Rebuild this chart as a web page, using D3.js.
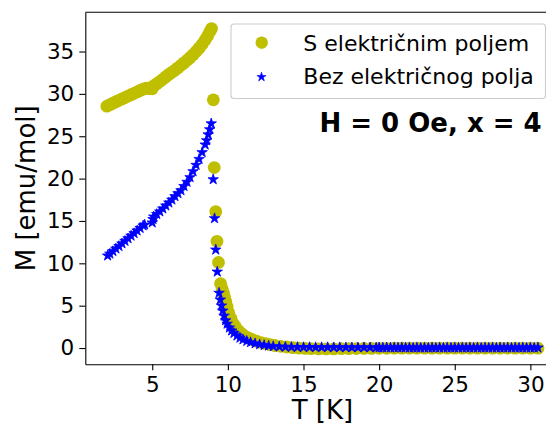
<!DOCTYPE html>
<html>
<head>
<meta charset="utf-8">
<script src="https://cdn.jsdelivr.net/npm/d3@7"></script>
<style>
  body { margin: 0; background: #fff; }
  svg { display: block; font-family: "DejaVu Sans", sans-serif; }
</style>
</head>
<body>
<div id="chart"></div>
<script>
// S elektricnim poljem (yellow circles)
var tWith = [2.0, 2.2, 2.4, 2.6, 2.8, 3.0, 3.2, 3.4, 3.6, 3.8, 4.0, 4.2, 4.4, 4.6, 4.8, 5.0,
  5.1, 5.3, 5.5, 5.7, 5.9, 6.1, 6.3, 6.5, 6.7, 6.9, 7.1, 7.3, 7.5, 7.7, 7.9, 8.1, 8.3, 8.5, 8.65, 8.8, 8.92,
  9.04, 9.1, 9.2, 9.28, 9.38, 9.52, 9.62, 9.7, 9.78, 9.86, 9.95, 10.05, 10.2, 10.35, 10.5, 10.7, 10.9,
  11.1, 11.35, 11.6, 11.9, 12.2, 12.5, 12.8, 13.1, 13.5, 13.9, 14.3, 14.7, 15.1, 15.5, 16.0,
  16.5, 17.0, 17.5, 18.0, 18.5, 19.0, 19.5, 20.0, 20.5, 21.0, 21.5, 22.0, 22.5, 23.0, 23.5, 24.0,
  24.5, 25.0, 25.5, 26.0, 26.5, 27.0, 27.5, 28.0, 28.5, 29.0, 29.5, 30.0, 30.5];
var mWith = [28.55, 28.72, 28.9, 29.07, 29.24, 29.4, 29.57, 29.74, 29.9, 30.07, 30.23, 30.4, 30.56, 30.68, 30.62, 30.6,
  30.95, 31.2, 31.45, 31.72, 32.02, 32.3, 32.55, 32.8, 33.08, 33.37, 33.66, 33.96, 34.28, 34.62, 35.0, 35.4, 35.85, 36.35, 36.8, 37.3, 37.7,
  29.3, 21.3, 16.1, 12.6, 10.1, 7.6, 7.0, 6.5, 6.0, 5.5, 4.9, 4.2, 3.5, 2.9, 2.5, 2.05, 1.7,
  1.42, 1.2, 1.0, 0.8, 0.65, 0.52, 0.4, 0.3, 0.2, 0.12, 0.05, 0.0, -0.05, -0.08, -0.1,
  -0.1, -0.1, -0.08, -0.07, -0.06, -0.05, -0.04, -0.03, -0.03, -0.02, -0.02, -0.02, -0.02, -0.02, -0.02, -0.02,
  -0.02, -0.02, -0.02, -0.02, -0.02, -0.02, -0.02, -0.02, -0.02, -0.02, -0.02, -0.02, -0.02];

// Bez elektricnog polja (blue stars)
var tWithout = [2.05, 2.2, 2.4, 2.6, 2.8, 3.0, 3.2, 3.4, 3.6, 3.8, 4.0, 4.2, 4.4, 4.5,
  5.0, 5.05, 5.1, 5.3, 5.5, 5.7, 5.9, 6.1, 6.3, 6.5, 6.7, 6.9, 7.1, 7.3, 7.5, 7.7, 7.9, 8.1, 8.3, 8.5, 8.6, 8.7, 8.8, 8.9,
  9.03, 9.12, 9.2, 9.3, 9.42, 9.5, 9.58, 9.66, 9.75, 9.85, 9.95, 10.1, 10.25, 10.4, 10.6, 10.8, 11.0,
  11.25, 11.5, 11.8, 12.1, 12.4, 12.7, 13.0, 13.4, 13.8, 14.2, 14.6, 15.0, 15.4, 15.8, 16.2, 16.6,
  17.0, 17.4, 17.8, 18.2, 18.6, 19.0, 19.4, 19.8, 20.0, 20.25, 20.5, 20.75, 21.0, 21.25, 21.5, 21.75,
  22.0, 22.25, 22.5, 22.75, 23.0, 23.25, 23.5, 23.75, 24.0, 24.25, 24.5, 24.75, 25.0, 25.25, 25.5, 25.75,
  26.0, 26.25, 26.5, 26.75, 27.0, 27.25, 27.5, 27.75, 28.0, 28.25, 28.5, 28.75, 29.0, 29.25, 29.5, 29.75,
  30.0, 30.25, 30.5];
var mWithout = [10.9, 11.12, 11.42, 11.72, 12.02, 12.33, 12.63, 12.93, 13.24, 13.54, 13.85, 14.15, 14.45, 14.55,
  14.8, 15.2, 15.5, 15.8, 16.1, 16.45, 16.8, 17.15, 17.5, 17.9, 18.25, 18.6, 19.1, 19.6, 20.15, 20.85, 21.6, 22.3, 23.1, 24.0, 24.5, 25.2, 25.8, 26.5,
  19.9, 15.3, 11.6, 9.0, 6.5, 5.7, 5.0, 4.4, 3.8, 3.25, 2.85, 2.4, 2.05, 1.75, 1.45, 1.2, 1.0,
  0.82, 0.67, 0.53, 0.42, 0.33, 0.26, 0.2, 0.16, 0.13, 0.11, 0.1, 0.09, 0.09, 0.08, 0.08, 0.08,
  0.07, 0.07, 0.07, 0.06, 0.06, 0.06, 0.06, 0.05, 0.05, 0.05, 0.05, 0.05, 0.05, 0.05, 0.05, 0.05,
  0.04, 0.04, 0.04, 0.04, 0.04, 0.04, 0.04, 0.04, 0.04, 0.04, 0.04, 0.04, 0.04, 0.04, 0.04, 0.04,
  0.04, 0.04, 0.04, 0.04, 0.04, 0.04, 0.04, 0.04, 0.04, 0.04, 0.04, 0.04, 0.04, 0.04, 0.04, 0.04,
  0.04, 0.04, 0.04];

var xTicks = [5, 10, 15, 20, 25, 30];
var yTicks = [0, 5, 10, 15, 20, 25, 30, 35];
var seriesNames = ["S električnim poljem", "Bez električnog polja"];
var seriesColors = ["#bfbf00", "#0000ff"];

var W = 546, H = 426;
var margin = {top: 12.3, left: 85.3, bottom: 61.7};
var plotRight = 559.5; // right spine falls outside the picture

var x = d3.scaleLinear().domain([0.575, 31.925]).range([margin.left, plotRight]);
var y = d3.scaleLinear().domain([-1.92, 39.63]).range([H - margin.bottom, margin.top]);

var svg = d3.select("#chart").append("svg")
  .attr("width", W)
  .attr("height", H);

var withData = tWith.map(function(t, i) { return {t: t, m: mWith[i]}; });
var withoutData = tWithout.map(function(t, i) { return {t: t, m: mWithout[i]}; });

var star = d3.symbol().type(d3.symbolStar).size(34);

// yellow circles first, blue stars on top
svg.append("g").selectAll("circle")
  .data(withData)
  .enter().append("circle")
  .attr("cx", function(d) { return x(d.t); })
  .attr("cy", function(d) { return y(d.m); })
  .attr("r", 6.4)
  .attr("fill", seriesColors[0]);

svg.append("g").selectAll("path")
  .data(withoutData)
  .enter().append("path")
  .attr("d", star)
  .attr("transform", function(d) { return "translate(" + x(d.t) + "," + y(d.m) + ")"; })
  .attr("fill", seriesColors[1])
  .attr("stroke", seriesColors[1])
  .attr("stroke-width", 0.8);

// axes
var xAxis = svg.append("g")
  .attr("transform", "translate(0," + (H - margin.bottom) + ")")
  .call(d3.axisBottom(x).tickValues(xTicks).tickSize(6).tickPadding(6).tickSizeOuter(0));
var yAxis = svg.append("g")
  .attr("transform", "translate(" + margin.left + ",0)")
  .call(d3.axisLeft(y).tickValues(yTicks).tickSize(6).tickPadding(5).tickSizeOuter(0));

[xAxis, yAxis].forEach(function(a) {
  a.select(".domain").attr("stroke", "#000").attr("stroke-width", 1.1);
  a.selectAll(".tick line").attr("stroke", "#000").attr("stroke-width", 1.1);
  a.selectAll(".tick text")
    .attr("fill", "#000")
    .style("font-family", "DejaVu Sans")
    .style("font-size", "21.5px");
});

// top spine
svg.append("line")
  .attr("x1", margin.left).attr("x2", plotRight)
  .attr("y1", margin.top).attr("y2", margin.top)
  .attr("stroke", "#000").attr("stroke-width", 1.1);

// axis labels
svg.append("text")
  .attr("x", (margin.left + plotRight) / 2)
  .attr("y", 419)
  .attr("text-anchor", "middle")
  .style("font-size", "26px")
  .text("T [K]");

svg.append("text")
  .attr("transform", "translate(35," + ((margin.top + H - margin.bottom) / 2) + ") rotate(-90)")
  .attr("text-anchor", "middle")
  .style("font-size", "26px")
  .text("M [emu/mol]");

// legend
var legend = svg.append("g");
legend.append("rect")
  .attr("x", 231).attr("y", 24)
  .attr("width", 314.5).attr("height", 74.5)
  .attr("rx", 3)
  .attr("fill", "#fff").attr("fill-opacity", 0.8)
  .attr("stroke", "#cccccc").attr("stroke-width", 1.1);

legend.append("circle")
  .attr("cx", 261.7).attr("cy", 42.7)
  .attr("r", 6.2)
  .attr("fill", seriesColors[0]);
legend.append("path")
  .attr("d", d3.symbol().type(d3.symbolStar).size(26))
  .attr("transform", "translate(261.5,77)")
  .attr("fill", seriesColors[1])
  .attr("stroke", seriesColors[1])
  .attr("stroke-width", 0.6);

legend.selectAll("text.lab")
  .data(seriesNames)
  .enter().append("text")
  .attr("class", "lab")
  .attr("x", 303.3)
  .attr("y", function(d, i) { return 50.8 + i * 33.5; })
  .style("font-size", "22px")
  .text(function(d) { return d; });

// annotation
svg.append("text")
  .attr("x", 541.7)
  .attr("y", 131.7)
  .attr("text-anchor", "end")
  .style("font-size", "26px")
  .style("font-weight", "bold")
  .text("H = 0 Oe, x = 4");
</script>
</body>
</html>
